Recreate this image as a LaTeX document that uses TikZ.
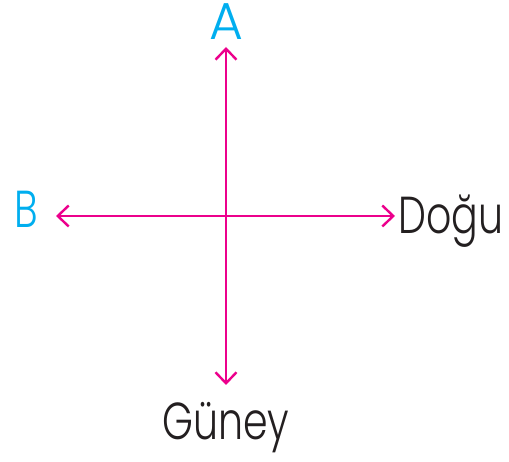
\documentclass[tikz,border=0pt]{standalone}
\usepackage{fontspec}
\setmainfont{Poppins}[UprightFont=*-Light]
\usepackage{xcolor}
\usetikzlibrary{arrows.meta}
\definecolor{pusula}{HTML}{EC008C}
\definecolor{yon}{HTML}{00AEEF}
\definecolor{yazi}{HTML}{231F20}
\newcommand\dar[1]{\scalebox{0.76}[1]{#1}}

\begin{document}
\begin{tikzpicture}[x=1pt,y=1pt,
  ok/.style={draw=pusula,line width=2.4pt,{Straight Barb[length=11pt,width=21pt]}-{Straight Barb[length=11pt,width=21pt]}},
  harf/.style={font=\fontsize{52}{52}\selectfont,inner sep=0pt,anchor=base}]
\useasboundingbox (0,0) rectangle (509,462);
\coordinate (kuzey) at (226,415);
\coordinate (guney) at (226,77);
\coordinate (bati) at (56,246);
\coordinate (dogu) at (395,246);
\draw[ok] (kuzey) -- (guney);
\draw[ok] (bati) -- (dogu);
\node[harf,text=yon] (A) at (226,422) {A};
\node[harf,text=yon] (B) at (26,234) {\dar{B}};
\node[harf,text=yazi,anchor=base west] (Dogu) at (398,228) {\dar{Doğu}};
\node[harf,text=yazi] (Guney) at (226,22) {\dar{Güney}};
\end{tikzpicture}
\end{document}
